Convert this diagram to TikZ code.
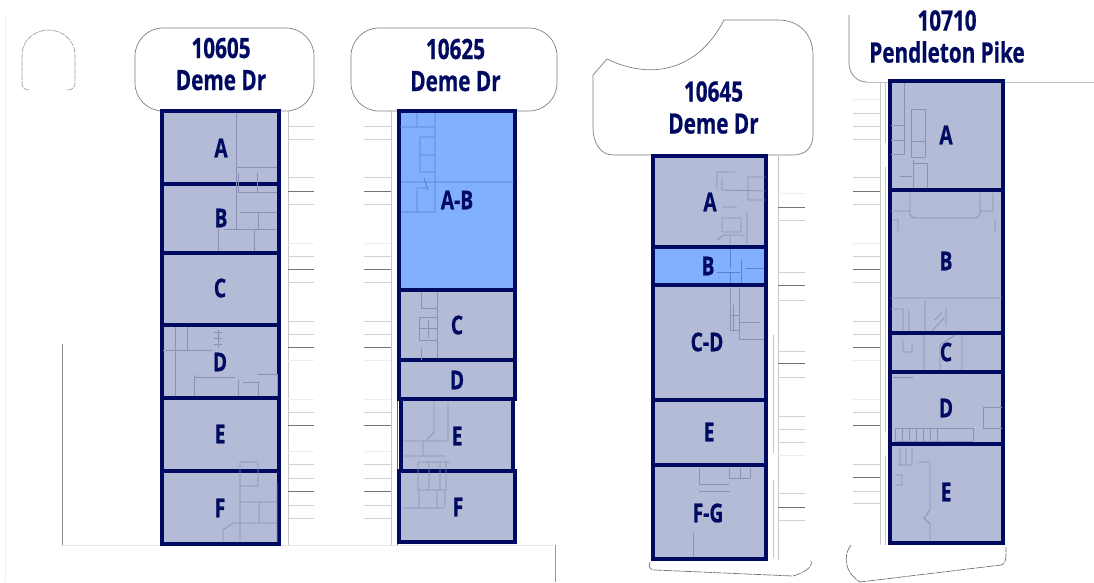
\documentclass[tikz,border=0pt]{standalone}
\usepackage{fontspec}
\setmainfont{Open Sans}
\newfontfamily\lblfont[FakeStretch=0.74,BoldFeatures={FakeBold=0.6}]{Open Sans}
\definecolor{navy}{HTML}{000A60}
\definecolor{unitgrey}{HTML}{B4BBD7}
\definecolor{unitblue}{HTML}{80B0FF}
\definecolor{wallc}{HTML}{8A91B5}
\definecolor{wallb}{HTML}{5A80C8}
\tikzset{
  unit/.style={draw=navy,line width=3.2pt,fill=unitgrey,line join=miter},
  unitsel/.style={unit,fill=unitblue},
  wall/.style={draw=wallc,line width=0.8pt},
  wallsel/.style={draw=wallb,line width=0.8pt},
  stripe/.style={draw=black!18,line width=0.9pt},
  stripedark/.style={draw=black!55,line width=0.9pt},
  stripefaint/.style={draw=black!7,line width=0.9pt},
  site/.style={draw=black!22,line width=1pt},
  sitedark/.style={draw=black!60,line width=1pt},
  outline/.style={draw=black!50,line width=0.7pt,fill=white},
  lbl/.style={text=navy,font=\lblfont\bfseries\fontsize{26}{30}\selectfont,inner sep=0pt,align=center},
  title/.style={text=navy,font=\lblfont\bfseries\fontsize{28}{32}\selectfont,inner sep=0pt,align=center}
}
\begin{document}
\begin{tikzpicture}[x=1pt,y=-1pt]
\useasboundingbox (0,0) rectangle (1094,582);
% site lines
\draw[draw=black!6,line width=0.8pt] (5,15) -- (5,582);
\draw[draw=black!45,line width=0.8pt] (62,344) -- (62,545);
\draw[draw=black!10,line width=0.8pt] (62,545) -- (553,545);
\draw[draw=black!40,line width=0.8pt] (555,545) -- (555,582);
\draw[draw=black!40,line width=0.6pt,dash pattern=on 6pt off 1pt]
  (29,90) .. controls (25,90) and (22,88) .. (22,83) -- (22,55)
  .. controls (22,40) and (35,30) .. (48.5,30) .. controls (62,30) and (75,40) .. (75,55)
  -- (75,83) .. controls (75,88) and (72,90) .. (67,90);
% columns
\draw[site] (288,111) -- (288,545) (391,111) -- (391,545);
\draw[sitedark] (397,111) -- (397,170) (397,193) -- (397,345) (397,360) -- (397,470) (397,483) -- (397,545);
\draw[site] (778,156) -- (778,560) (773,335) -- (773,453) (773,480) -- (773,558);
\draw[site] (880,82) -- (880,545) (885,82) -- (885,143) (885,167) -- (885,432) (885,456) -- (885,545);
% stripes
\foreach \y in {126,139,204,256,282,334,412,478,505}{
  \draw[stripe] (288,\y) -- (314,\y) (364,\y) -- (391,\y);}
\foreach \y in {177,321,464,518}{
  \draw[stripe] (288,\y) -- (314,\y) (364,\y) -- (391,\y);}
\foreach \y in {191,269,347,425,491}{
  \draw[stripedark] (288,\y) -- (314,\y) (364,\y) -- (391,\y);}
\foreach \y in {243,360,399,451}{
  \draw[stripefaint] (288,\y) -- (314,\y) (364,\y) -- (391,\y);}
\foreach \y in {220,272,300,351,377,416,429,442,493,520}{
  \draw[stripe] (778,\y) -- (805,\y);}
\foreach \y in {207,285,363,507}{
  \draw[stripedark] (778,\y) -- (805,\y);}
\foreach \y in {193,455}{
  \draw[stripefaint] (778,\y) -- (805,\y);}
\foreach \y in {113,126,139,177,204,256,282,321,334,412,464,491,503}{
  \draw[stripe] (853,\y) -- (880,\y);}
\foreach \y in {191,269,347,425,477}{
  \draw[stripedark] (853,\y) -- (880,\y);}
\foreach \y in {99,243,360,399}{
  \draw[stripefaint] (853,\y) -- (880,\y);}
% title shapes
\draw[outline,rounded corners=28pt] (135,28) rectangle (314,111);
\draw[outline,rounded corners=28pt] (351,28) rectangle (557,111);
\draw[outline] (607,59) .. controls (650,80) and (697,72) .. (724,20) -- (778,20)
  .. controls (800,20) and (813,35) .. (813,55) -- (813,135)
  .. controls (813,148) and (805,155) .. (793,155) -- (613,155)
  .. controls (600,155) and (593,142) .. (593,128) -- (593,75) -- cycle;
\draw[draw=black!50,line width=0.7pt] (849,15) -- (849,63) .. controls (849,73) and (856,82) .. (867,82);
\draw[draw=black!25,line width=0.8pt] (867,82) -- (1094,82);
% bottom shapes
\draw[draw=black!55,line width=0.7pt,dash pattern=on 9pt off 1pt]
  (650,562) .. controls (648,567) and (650,570) .. (655,570) -- (793,576)
  .. controls (800,574) and (814,568) .. (811,561);
\draw[draw=black!55,line width=0.7pt,dash pattern=on 9pt off 1pt]
  (851,545) .. controls (843,555) and (844,572) .. (860,582) -- (1001,565)
  .. controls (1005,564) and (1006,560) .. (1006,555) -- (1006,547);
% units, building 1
\draw[unit] (162,111) rectangle (279,184);
\draw[unit] (162,184) rectangle (279,253);
\draw[unit] (162,253) rectangle (279,325);
\draw[unit] (162,325) rectangle (279,398);
\draw[unit] (162,398) rectangle (279,471);
\draw[unit] (162,471) rectangle (279,544);
% building 2
\draw[unitsel] (399,111) rectangle (515,290);
\draw[unit] (399,290) rectangle (515,360);
\draw[unit] (399,360) rectangle (515,399);
\draw[unit] (401,399) rectangle (513,471);
\draw[unit] (399,471) rectangle (515,542);
% building 3
\draw[unit] (653,156) rectangle (766,247);
\draw[unit] (653,285) rectangle (766,400);
\draw[unit] (653,400) rectangle (766,465);
\draw[unit] (653,465) rectangle (766,559);
\draw[unitsel] (653,247) rectangle (766,285);
% building 4
\draw[unit] (890,81) rectangle (1003,190);
\draw[unit] (890,190) rectangle (1003,333);
\draw[unit] (890,333) rectangle (1003,372);
\draw[unit] (890,372) rectangle (1003,444);
\draw[unit] (890,444) rectangle (1003,543);
% interior walls, building 1
\draw[wall] (236,113) -- (236,229) (236,167) -- (277,167) (238,173) -- (238,192) (257,173) -- (257,192)
  (238,192) -- (277,192) (224,229) -- (277,229) (218,229) -- (218,251) (254,229) -- (254,251)
  (240,212) -- (277,212) (258,212) -- (258,229);
\draw[wall] (175,327) -- (175,396) (187,327) -- (187,350) (163,350) -- (212,350)
  (194,375) -- (194,396) (194,377) -- (235,377) (238,380) -- (238,396) (243,382) -- (258,382) (258,382) -- (258,396)
  (258,374) -- (277,374) (277,374) -- (277,396) (214,332) -- (222,332) (214,338) -- (222,338) (214,344) -- (222,344) (218,330) -- (218,348);
\draw[wall] (240,462) -- (240,542) (258,462) -- (258,486) (240,486) -- (258,486) (240,462) -- (258,462)
  (240,502) -- (277,502) (259,502) -- (259,523) (223,530) -- (223,542) (223,530) -- (233,523) -- (277,523) (277,482) -- (277,542);
% building 2
\draw[wallsel] (401,182) -- (514,182) (435,113) -- (435,212) (417,113) -- (417,127) (400,127) -- (435,127)
  (420,137) -- (420,172) (420,137) -- (435,137) (420,155) -- (435,155) (420,172) -- (435,172)
  (401,212) -- (435,212) (417,190) -- (417,212) (424,178) -- (428,190) (416,188) -- (426,188);
\draw[wall] (437,292) -- (437,358) (421,292) -- (421,308) (421,308) -- (437,308)
  (419,317) -- (419,340) (419,317) -- (437,317) (419,340) -- (437,340) (428,320) -- (428,338) (419,328) -- (437,328) (421,348) -- (421,360);
\draw[wall] (434,401) -- (434,432) -- (426,441) (448,402) -- (448,441) (403,441) -- (447,441) (423,441) -- (423,455) (403,456) -- (445,456)
  (418,462) -- (450,462) (418,462) -- (418,490) (429,462) -- (429,490) (440,462) -- (440,490) (446,462) -- (446,490) (418,490) -- (446,490)
  (419,490) -- (419,508) (437,490) -- (437,508) (445,490) -- (445,506) (403,508) -- (445,508);
% building 3
\draw[wall] (717,172) -- (717,190) (717,172) -- (735,172) (722,178) -- (722,190) -- (765,191) (748,177) -- (765,177) (748,177) -- (748,200) -- (765,200)
  (722,207) -- (737,207) (747,212) -- (747,245) (741,218) -- (741,232) (722,218) -- (741,218) (722,232) -- (741,232) (722,218) -- (722,232)
  (717,240) -- (724,235) -- (745,235) (730,235) -- (730,245);
\draw[wallsel] (730,249) -- (730,268) (741,260) -- (741,283) (746,268) -- (764,268) (717,272) -- (740,272) (730,272) -- (730,283);
\draw[wall] (730,288) -- (730,330) (739,288) -- (739,340) (730,330) -- (739,330) (740,322) -- (760,322) (740,339) -- (764,339)
  (730,315) -- (739,315) (733,305) -- (733,330);
\draw[wall] (699,468) -- (699,484) -- (729,484) (699,491) -- (730,491) (729,468) -- (729,478) -- (750,478) (740,468) -- (740,478) (750,468) -- (750,478) (693,533) -- (693,557);
% building 4
\draw[wall] (904,83) -- (904,154) (891,125) -- (904,125) (891,140) -- (905,140) (891,154) -- (905,154)
  (911,109) -- (925,109) -- (925,157) (911,109) -- (911,157) -- (925,157) (911,141) -- (925,141)
  (913,160) -- (913,188) (927,163) -- (927,188) (913,163) -- (927,163) (900,176) -- (912,176);
\draw[wall] (891,211) -- (910,211) (910,193) -- (910,215) .. controls (911,218) and (914,218) .. (918,218) -- (973,218) .. controls (978,218) and (980,216) .. (980,212) -- (980,193)
  (980,211) -- (993,211) (993,193) -- (993,211) (893,220) -- (898,220) -- (898,232) (995,218) -- (995,232)
  (891,298) -- (1002,298);
\draw[wall] (891,309) -- (903,309) -- (903,331) (909,310) -- (909,331) (925,300) -- (925,331) (946,308) -- (946,326)
  (935,320) -- (942,312) (932,331) -- (944,318);
\draw[wall] (924,335) -- (924,370) (962,335) -- (962,370) (940,345) -- (940,370) (940,345) -- (955,335)
  (903,340) -- (903,352) (912,345) -- (912,352) (903,352) -- (912,352);
\draw[wall] (893,377) -- (913,377) (983,407) -- (1002,407) (983,407) -- (983,428) -- (1002,428)
  (895,428) -- (973,428) (895,441) -- (973,441) (973,428) -- (973,441) (895,428) -- (895,441)
  (902,428) -- (902,441) (909,428) -- (909,441) (916,428) -- (916,441) (923,428) -- (923,441) (930,428) -- (930,441) (937,428) -- (937,441);
\draw[wall] (930,462) -- (930,510) -- (924,518) -- (930,524) -- (930,541) (918,462) -- (930,462)
  (900,448) -- (900,465) (912,448) -- (912,465) (898,465) -- (912,465) (906,448) -- (906,465)
  (895,475) -- (902,475) (902,475) -- (902,485) (895,485) -- (902,485);
% titles
\node[title] (t1) at (221,64) {10605\\Deme Dr};
\node[title] (t2) at (455.5,65) {10625\\Deme Dr};
\node[title] (t3) at (713.5,107.5) {10645\\Deme Dr};
\node[title] (t4) at (947,36.5) {10710\\Pendleton Pike};
% unit labels
\node[lbl] (a1) at (221,148) {A};
\node[lbl] (b1) at (221,218) {B};
\node[lbl] (c1) at (220,288) {C};
\node[lbl] (d1) at (220,362) {D};
\node[lbl] (e1) at (220,434) {E};
\node[lbl] (f1) at (220,508) {F};
\node[lbl] (ab2) at (457,200) {A-B};
\node[lbl] (c2) at (457,325) {C};
\node[lbl] (d2) at (457,380) {D};
\node[lbl] (e2) at (457,436) {E};
\node[lbl] (f2) at (458,507) {F};
\node[lbl] (a3) at (710,202) {A};
\node[lbl] (b3) at (708,266) {B};
\node[lbl] (cd3) at (707,342) {C-D};
\node[lbl] (e3) at (709,432) {E};
\node[lbl] (fg3) at (708,513) {F-G};
\node[lbl] (a4) at (946,135) {A};
\node[lbl] (b4) at (946,261) {B};
\node[lbl] (c4) at (946,352) {C};
\node[lbl] (d4) at (946,408) {D};
\node[lbl] (e4) at (946,492) {E};
\end{tikzpicture}
\end{document}
